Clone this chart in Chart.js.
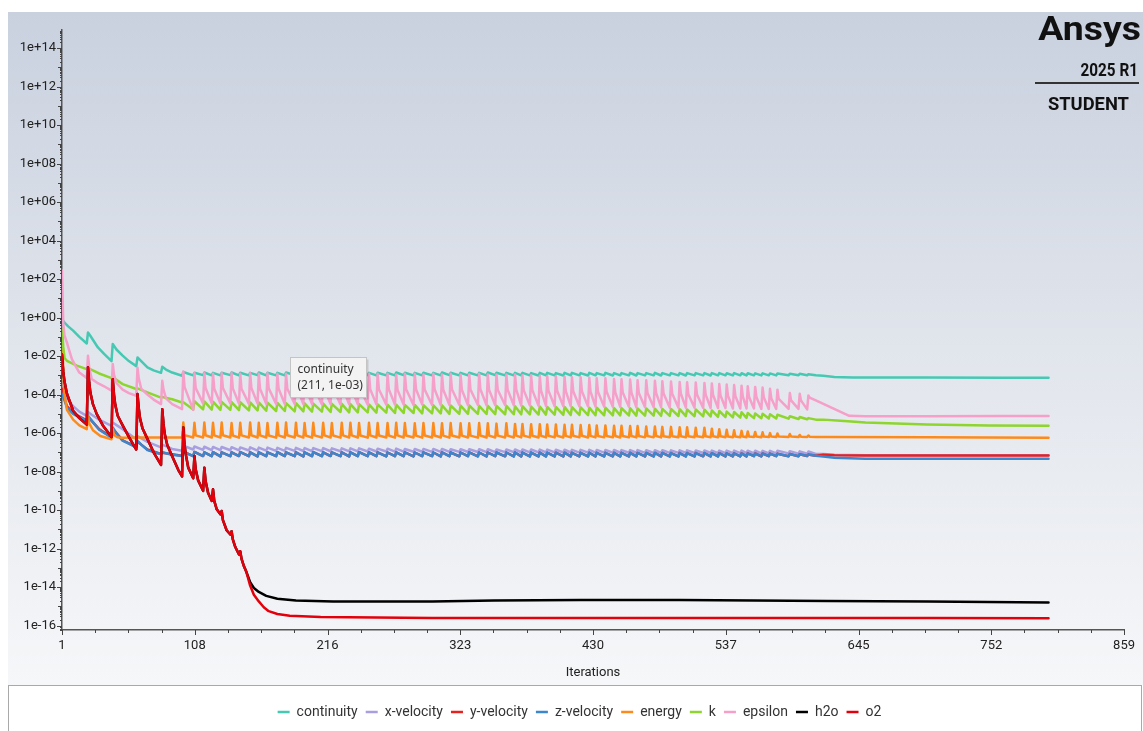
<!DOCTYPE html>
<html><head><meta charset="utf-8">
<script src="https://cdn.jsdelivr.net/npm/chart.js@4.4.1/dist/chart.umd.min.js"></script>
<style>html,body{margin:0;padding:0;background:#fff;}canvas{display:block;}</style>
</head><body>
<canvas id="c" width="1143" height="731"></canvas>
<script>
// ---------------- data ----------------
const seriesNames = ['continuity','x-velocity','y-velocity','z-velocity','energy','k','epsilon','h2o','o2'];
const xRange = [1, 859];
const xTickLabels = ['1','108','216','323','430','537','645','752','859'];
const yExpRange = [-16.23, 14.94];
const yTickExps = [-16,-14,-12,-10,-8,-6,-4,-2,0,2,4,6,8,10,12,14];
const yTickLabels = ['1e-16','1e-14','1e-12','1e-10','1e-08','1e-06','1e-04','1e-02','1e+00','1e+02','1e+04','1e+06','1e+08','1e+10','1e+12','1e+14'];
const tooltipInfo = {series: 'continuity', iter: 211, value: 1e-3};

// iterations where a new time step starts (residual jump) in the periodic part
const stepIters = [99,108,116,123,130,138,145,153,160,167,175,182,190,197,204,212,219,227,234,241,249,256,264,271,278,286,293,301,308,315,323,330,338,345,352,360,
367,373,380,387,393,400,407,413,420,427,433,440,447,453,460,466,473,480,486,493,500,506,513,520,
526,532,538,544,550,555,561,567,573,579,
589,597,604];
const oscEnd = 611;

// continuity
const continuityEarly = [[1,0.85],[3,0.55],[6,0.35],[10,0.21],[15,0.1],[21,0.045],[22,0.17],[24,0.11],[30,0.028],[35,0.013],[41,5.5e-3],[42,0.043],[45,0.022],[50,0.0105],[55,5.5e-3],[61,3.0e-3],[62,8.5e-3],[65,5.5e-3],[70,2.6e-3],[75,1.8e-3],[81,1.35e-3],[82,2.8e-3],[85,2.0e-3],[90,1.4e-3],[98,9.5e-4]];
const continuityPeak = [1.5e-3,1.35e-3,1.4e-3,1.35e-3,1.35e-3,1.4e-3,1.35e-3,1.35e-3,1.4e-3,1.35e-3,1.35e-3,1.4e-3,1.35e-3,1.35e-3,1.35e-3,1.4e-3,1.35e-3,1.35e-3,1.35e-3,1.4e-3,1.35e-3,1.35e-3,1.35e-3,1.4e-3,1.35e-3,1.35e-3,1.35e-3,1.35e-3,1.4e-3,1.35e-3,1.35e-3,1.35e-3,1.35e-3,1.4e-3,1.35e-3,1.35e-3,
1.35e-3,1.35e-3,1.3e-3,1.35e-3,1.35e-3,1.3e-3,1.35e-3,1.35e-3,1.3e-3,1.35e-3,1.3e-3,1.35e-3,1.3e-3,1.3e-3,1.35e-3,1.3e-3,1.3e-3,1.35e-3,1.3e-3,1.3e-3,1.3e-3,1.3e-3,1.3e-3,1.3e-3,
1.3e-3,1.3e-3,1.28e-3,1.3e-3,1.28e-3,1.28e-3,1.27e-3,1.27e-3,1.26e-3,1.25e-3,
1.22e-3,1.2e-3,1.15e-3];
const continuityLow = [1.0e-3,1.02e-3,1.0e-3,1.0e-3,1.02e-3,1.0e-3,1.0e-3,1.02e-3,1.0e-3,1.0e-3,1.0e-3,1.02e-3,1.0e-3,1.0e-3,1.0e-3,1.02e-3,1.0e-3,1.0e-3,1.0e-3,1.02e-3,1.0e-3,1.0e-3,1.0e-3,1.02e-3,1.0e-3,1.0e-3,1.0e-3,1.0e-3,1.02e-3,1.0e-3,1.0e-3,1.0e-3,1.0e-3,1.02e-3,1.0e-3,1.0e-3,
1.0e-3,1.0e-3,0.98e-3,1.0e-3,1.0e-3,0.98e-3,1.0e-3,1.0e-3,0.98e-3,1.0e-3,1.0e-3,0.98e-3,1.0e-3,1.0e-3,0.98e-3,1.0e-3,1.0e-3,0.98e-3,1.0e-3,1.0e-3,0.98e-3,1.0e-3,1.0e-3,0.98e-3,
1.0e-3,1.0e-3,0.99e-3,1.0e-3,0.99e-3,1.0e-3,0.99e-3,1.0e-3,0.99e-3,1.0e-3,
1.0e-3,1.0e-3,1.0e-3];
const continuityTail = [[616,9.5e-4],[625,8.3e-4],[640,7.8e-4],[700,7.7e-4],[760,7.6e-4],[798,7.6e-4]];

// x-velocity
const xvelEarly = [[1,1.6e-4],[3,9e-5],[5,6.3e-5],[10,2.5e-5],[15,1.3e-5],[21,7.9e-6],[22,1.26e-5],[25,9e-6],[31,5e-6],[41,2.4e-6],[42,3.5e-6],[50,1.6e-6],[61,4.8e-7],[62,7e-7],[70,3.5e-7],[81,1.8e-7],[82,2.5e-7],[90,1.5e-7],[98,1.2e-7]];
const xvelPeak = [2.2e-7,2.0e-7,1.95e-7,1.9e-7,1.9e-7,1.85e-7,1.8e-7,1.8e-7,1.75e-7,1.75e-7,1.7e-7,1.7e-7,1.7e-7,1.65e-7,1.65e-7,1.65e-7,1.6e-7,1.6e-7,1.6e-7,1.6e-7,1.55e-7,1.55e-7,1.55e-7,1.55e-7,1.5e-7,1.5e-7,1.5e-7,1.5e-7,1.5e-7,1.45e-7,1.45e-7,1.45e-7,1.45e-7,1.45e-7,1.4e-7,1.4e-7,
1.4e-7,1.4e-7,1.4e-7,1.38e-7,1.38e-7,1.36e-7,1.36e-7,1.35e-7,1.35e-7,1.34e-7,1.33e-7,1.32e-7,1.32e-7,1.31e-7,1.3e-7,1.3e-7,1.29e-7,1.28e-7,1.28e-7,1.27e-7,1.26e-7,1.26e-7,1.25e-7,1.25e-7,
1.24e-7,1.24e-7,1.23e-7,1.23e-7,1.22e-7,1.22e-7,1.21e-7,1.2e-7,1.2e-7,1.2e-7,
1.15e-7,1.12e-7,1.1e-7];
const xvelLow = [1.4e-7,1.35e-7,1.3e-7,1.3e-7,1.28e-7,1.26e-7,1.25e-7,1.24e-7,1.22e-7,1.2e-7,1.2e-7,1.18e-7,1.17e-7,1.16e-7,1.15e-7,1.14e-7,1.13e-7,1.12e-7,1.12e-7,1.11e-7,1.1e-7,1.1e-7,1.09e-7,1.08e-7,1.08e-7,1.07e-7,1.06e-7,1.06e-7,1.05e-7,1.05e-7,1.04e-7,1.04e-7,1.03e-7,1.03e-7,1.02e-7,1.02e-7,
1.01e-7,1.0e-7,1.0e-7,9.9e-8,9.9e-8,9.8e-8,9.8e-8,9.7e-8,9.7e-8,9.6e-8,9.6e-8,9.6e-8,9.5e-8,9.5e-8,9.5e-8,9.4e-8,9.4e-8,9.4e-8,9.3e-8,9.3e-8,9.3e-8,9.2e-8,9.2e-8,9.2e-8,
9.1e-8,9.1e-8,9.0e-8,9.0e-8,9.0e-8,8.9e-8,8.9e-8,8.9e-8,8.8e-8,8.8e-8,
8.6e-8,8.4e-8,8.2e-8];
const xvelTail = [[616,8.2e-8],[625,7.4e-8],[650,7.1e-8],[720,7.1e-8],[798,7.1e-8]];

// y-velocity (in the periodic part it lies exactly under z-velocity)
const yvelEarly = [[1,2.0e-4],[3,6e-5],[5,2.5e-5],[10,1.1e-5],[21,4.6e-6],[22,7e-6],[31,1.6e-6],[41,6e-7],[42,1.7e-6],[50,4.2e-7],[61,1.9e-7],[62,3.6e-7],[70,1.4e-7],[81,8.2e-8],[82,9.5e-8],[98,6.6e-8]];
const yvelTail = [[616,7.6e-8],[625,7.0e-8],[650,6.8e-8],[720,6.8e-8],[798,6.8e-8]];

// z-velocity
const zvelEarly = [[1,1.1e-4],[3,5e-5],[5,2.1e-5],[10,1.0e-5],[15,6.5e-6],[21,4.4e-6],[22,7.9e-6],[25,4.5e-6],[31,1.5e-6],[41,5.9e-7],[42,1.95e-6],[45,9e-7],[50,4e-7],[61,1.8e-7],[62,4e-7],[65,2.5e-7],[70,1.3e-7],[81,8e-8],[82,1.0e-7],[90,7.5e-8],[98,6.5e-8]];
const zvelPeak = [1.1e-7,1.05e-7,1.0e-7,1.02e-7,1.0e-7,1.0e-7,1.02e-7,1.0e-7,1.0e-7,1.0e-7,1.02e-7,1.0e-7,1.0e-7,1.0e-7,1.02e-7,1.0e-7,1.0e-7,1.0e-7,1.0e-7,1.02e-7,1.0e-7,1.0e-7,9.8e-8,1.0e-7,1.0e-7,9.8e-8,1.0e-7,9.8e-8,1.0e-7,9.8e-8,9.8e-8,1.0e-7,9.8e-8,9.8e-8,9.8e-8,9.8e-8,
9.8e-8,9.7e-8,9.7e-8,9.7e-8,9.6e-8,9.6e-8,9.6e-8,9.5e-8,9.5e-8,9.5e-8,9.5e-8,9.4e-8,9.4e-8,9.4e-8,9.4e-8,9.3e-8,9.3e-8,9.3e-8,9.3e-8,9.2e-8,9.2e-8,9.2e-8,9.2e-8,9.1e-8,
9.0e-8,9.0e-8,8.9e-8,8.9e-8,8.8e-8,8.8e-8,8.7e-8,8.7e-8,8.6e-8,8.5e-8,
8.2e-8,8.0e-8,7.8e-8];
const zvelLow = [6.3e-8,6.4e-8,6.3e-8,6.2e-8,6.3e-8,6.4e-8,6.3e-8,6.2e-8,6.3e-8,6.3e-8,6.4e-8,6.3e-8,6.2e-8,6.3e-8,6.3e-8,6.4e-8,6.3e-8,6.2e-8,6.3e-8,6.3e-8,6.3e-8,6.2e-8,6.3e-8,6.3e-8,6.2e-8,6.3e-8,6.3e-8,6.2e-8,6.3e-8,6.2e-8,6.3e-8,6.2e-8,6.2e-8,6.3e-8,6.2e-8,6.2e-8,
6.2e-8,6.2e-8,6.1e-8,6.2e-8,6.2e-8,6.1e-8,6.2e-8,6.2e-8,6.1e-8,6.2e-8,6.1e-8,6.2e-8,6.1e-8,6.1e-8,6.2e-8,6.1e-8,6.1e-8,6.2e-8,6.1e-8,6.1e-8,6.2e-8,6.1e-8,6.2e-8,6.2e-8,
6.2e-8,6.2e-8,6.2e-8,6.2e-8,6.2e-8,6.3e-8,6.2e-8,6.3e-8,6.3e-8,6.3e-8,
6.3e-8,6.4e-8,6.6e-8];
const zvelTail = [[616,6.0e-8],[625,5.2e-8],[650,4.7e-8],[720,4.7e-8],[798,4.6e-8]];

// energy
const energyEarly = [[1,0.2],[2,2e-3],[3,1e-4],[5,1.6e-5],[10,5e-6],[15,2.5e-6],[21,1.6e-6],[22,8e-6],[23,3.2e-6],[26,1.4e-6],[32,7e-7],[41,4.8e-7],[42,1.6e-6],[43,8e-7],[46,6e-7],[50,5.8e-7],[61,5.9e-7],[81,5.9e-7],[98,5.9e-7]];
const energyPeak = [3.5e-6,3.4e-6,3.5e-6,3.4e-6,3.5e-6,3.3e-6,3.4e-6,3.5e-6,3.4e-6,3.3e-6,3.4e-6,3.5e-6,3.4e-6,3.3e-6,3.4e-6,3.4e-6,3.3e-6,3.4e-6,3.4e-6,3.3e-6,3.4e-6,3.3e-6,3.3e-6,3.4e-6,3.3e-6,3.2e-6,3.3e-6,3.3e-6,3.2e-6,3.3e-6,3.2e-6,3.2e-6,3.3e-6,3.2e-6,3.1e-6,3.2e-6,
3.0e-6,3.0e-6,2.9e-6,2.9e-6,2.8e-6,2.8e-6,2.7e-6,2.7e-6,2.6e-6,2.6e-6,2.5e-6,2.5e-6,2.4e-6,2.4e-6,2.3e-6,2.3e-6,2.2e-6,2.2e-6,2.1e-6,2.1e-6,2.0e-6,2.0e-6,1.9e-6,1.9e-6,
1.7e-6,1.6e-6,1.5e-6,1.4e-6,1.3e-6,1.2e-6,1.15e-6,1.1e-6,1.0e-6,9.5e-7,
9.0e-7,8.0e-7,7.5e-7];
const energyMid = [7.8e-7,7.6e-7,7.7e-7,7.6e-7,7.7e-7,7.5e-7,7.6e-7,7.7e-7,7.6e-7,7.5e-7,7.6e-7,7.7e-7,7.6e-7,7.5e-7,7.6e-7,7.6e-7,7.5e-7,7.6e-7,7.6e-7,7.5e-7,7.6e-7,7.5e-7,7.5e-7,7.6e-7,7.5e-7,7.4e-7,7.5e-7,7.5e-7,7.4e-7,7.5e-7,7.4e-7,7.4e-7,7.5e-7,7.4e-7,7.4e-7,7.4e-7,
7.4e-7,7.4e-7,7.3e-7,7.3e-7,7.3e-7,7.3e-7,7.2e-7,7.2e-7,7.2e-7,7.2e-7,7.1e-7,7.1e-7,7.1e-7,7.1e-7,7.0e-7,7.0e-7,7.0e-7,7.0e-7,6.9e-7,6.9e-7,6.9e-7,6.9e-7,6.8e-7,6.8e-7,
6.8e-7,6.8e-7,6.7e-7,6.7e-7,6.7e-7,6.7e-7,6.6e-7,6.6e-7,6.6e-7,6.6e-7,
6.6e-7,6.5e-7,6.5e-7];
const energyLow = [5.9e-7,5.9e-7,5.9e-7,5.9e-7,5.9e-7,5.8e-7,5.9e-7,5.9e-7,5.9e-7,5.8e-7,5.9e-7,5.9e-7,5.9e-7,5.8e-7,5.9e-7,5.9e-7,5.8e-7,5.9e-7,5.9e-7,5.8e-7,5.9e-7,5.9e-7,5.8e-7,5.9e-7,5.9e-7,5.8e-7,5.9e-7,5.9e-7,5.8e-7,5.9e-7,5.9e-7,5.8e-7,5.9e-7,5.9e-7,5.9e-7,5.9e-7,
6.0e-7,6.0e-7,5.9e-7,6.0e-7,6.0e-7,5.9e-7,6.0e-7,6.0e-7,5.9e-7,6.0e-7,6.0e-7,6.0e-7,5.9e-7,6.0e-7,6.0e-7,6.0e-7,6.0e-7,6.0e-7,6.0e-7,6.1e-7,6.0e-7,6.1e-7,6.1e-7,6.1e-7,
6.1e-7,6.1e-7,6.1e-7,6.1e-7,6.1e-7,6.2e-7,6.1e-7,6.2e-7,6.2e-7,6.2e-7,
6.2e-7,6.2e-7,6.2e-7];
const energyTail = [[616,6.2e-7],[700,6.0e-7],[798,5.8e-7]];

// k
const kEarly = [[1,0.26],[2,0.03],[3,8e-3],[5,5.7e-3],[13,3.2e-3],[21,2.1e-3],[22,2.4e-3],[31,1.25e-3],[41,7.2e-4],[42,8e-4],[50,3.5e-4],[61,1.95e-4],[62,2.1e-4],[70,1.3e-4],[81,7e-5],[82,7.5e-5],[90,5.7e-5],[98,3.9e-5]];
const kPeak = [4.0e-5,4.5e-5,4.4e-5,4.3e-5,4.2e-5,4.1e-5,4.0e-5,3.9e-5,3.9e-5,3.8e-5,3.7e-5,3.6e-5,3.6e-5,3.5e-5,3.4e-5,3.4e-5,3.3e-5,3.3e-5,3.2e-5,3.2e-5,3.1e-5,3.1e-5,3.0e-5,3.0e-5,2.9e-5,2.9e-5,2.8e-5,2.8e-5,2.8e-5,2.7e-5,2.7e-5,2.7e-5,2.6e-5,2.6e-5,2.6e-5,2.6e-5,
2.5e-5,2.5e-5,2.4e-5,2.4e-5,2.3e-5,2.3e-5,2.3e-5,2.2e-5,2.2e-5,2.1e-5,2.1e-5,2.1e-5,2.0e-5,2.0e-5,1.95e-5,1.9e-5,1.9e-5,1.85e-5,1.8e-5,1.8e-5,1.75e-5,1.7e-5,1.7e-5,1.65e-5,
1.5e-5,1.4e-5,1.3e-5,1.25e-5,1.2e-5,1.1e-5,1.05e-5,1.0e-5,9.5e-6,9.0e-6,
7.5e-6,6.8e-6,6.0e-6];
const kLow = [1.7e-5,1.7e-5,1.65e-5,1.6e-5,1.6e-5,1.55e-5,1.5e-5,1.5e-5,1.45e-5,1.4e-5,1.4e-5,1.35e-5,1.35e-5,1.3e-5,1.3e-5,1.25e-5,1.25e-5,1.2e-5,1.2e-5,1.2e-5,1.15e-5,1.15e-5,1.1e-5,1.1e-5,1.1e-5,1.05e-5,1.05e-5,1.05e-5,1.0e-5,1.0e-5,1.0e-5,1.0e-5,9.8e-6,9.6e-6,9.5e-6,9.5e-6,
9.4e-6,9.3e-6,9.2e-6,9.1e-6,9.0e-6,8.9e-6,8.8e-6,8.7e-6,8.6e-6,8.5e-6,8.4e-6,8.3e-6,8.3e-6,8.2e-6,8.1e-6,8.0e-6,8.0e-6,7.9e-6,7.8e-6,7.7e-6,7.6e-6,7.5e-6,7.4e-6,7.3e-6,
7.0e-6,6.8e-6,6.6e-6,6.4e-6,6.2e-6,6.0e-6,5.9e-6,5.8e-6,5.7e-6,5.6e-6,
5.4e-6,5.2e-6,5.0e-6];
const kTail = [[616,5.0e-6],[630,4.4e-6],[650,3.5e-6],[700,2.8e-6],[750,2.5e-6],[798,2.4e-6]];

// epsilon
const epsEarly = [[1,280],[2,0.5],[3,0.12],[5,0.05],[7,0.018],[9,7e-3],[12,3e-3],[15,1.4e-3],[21,7.2e-4],[22,0.0105],[23,2.5e-3],[25,6.5e-4],[30,3.9e-4],[35,2.7e-4],[41,1.6e-4],[42,3.9e-3],[43,1.1e-3],[45,4.0e-4],[50,1.8e-4],[55,1.2e-4],[61,8.7e-5],[62,2.5e-3],[63,7e-4],[65,2.0e-4],[70,1.0e-4],[75,5.5e-5],[81,3.2e-5],[82,5.2e-4],[83,1.8e-4],[85,6.3e-5],[90,3.2e-5],[98,1.75e-5]];
const epsPeak = [1.6e-3,1.3e-3,1.3e-3,1.2e-3,1.3e-3,1.3e-3,1.2e-3,1.3e-3,1.2e-3,1.3e-3,1.2e-3,1.2e-3,1.3e-3,1.2e-3,1.2e-3,1.2e-3,1.3e-3,1.2e-3,1.2e-3,1.2e-3,1.2e-3,1.2e-3,1.2e-3,1.1e-3,1.2e-3,1.2e-3,1.1e-3,1.2e-3,1.1e-3,1.2e-3,1.1e-3,1.1e-3,1.2e-3,1.1e-3,1.1e-3,1.1e-3,
1.1e-3,1.0e-3,1.0e-3,9.5e-4,9.0e-4,9.0e-4,8.5e-4,8.0e-4,8.0e-4,7.5e-4,7.0e-4,7.0e-4,6.5e-4,6.3e-4,6.0e-4,5.6e-4,5.5e-4,5.2e-4,5.0e-4,4.8e-4,4.5e-4,4.4e-4,4.2e-4,4.0e-4,
3.8e-4,3.5e-4,3.3e-4,3.1e-4,2.9e-4,2.7e-4,2.5e-4,2.3e-4,2.0e-4,1.8e-4,
1.2e-4,1.1e-4,9.0e-5];
const epsMid = [2.5e-4,2.2e-4,2.2e-4,2.0e-4,2.2e-4,2.1e-4,2.0e-4,2.2e-4,2.0e-4,2.1e-4,2.0e-4,2.0e-4,2.1e-4,2.0e-4,2.0e-4,1.9e-4,2.1e-4,2.0e-4,1.9e-4,1.9e-4,1.9e-4,1.9e-4,1.9e-4,1.8e-4,1.9e-4,1.9e-4,1.8e-4,1.9e-4,1.8e-4,1.9e-4,1.8e-4,1.8e-4,1.9e-4,1.8e-4,1.8e-4,1.8e-4,
1.8e-4,1.7e-4,1.7e-4,1.6e-4,1.6e-4,1.6e-4,1.5e-4,1.5e-4,1.5e-4,1.4e-4,1.4e-4,1.4e-4,1.3e-4,1.3e-4,1.3e-4,1.2e-4,1.2e-4,1.2e-4,1.15e-4,1.1e-4,1.1e-4,1.05e-4,1.0e-4,1.0e-4,
9.5e-5,9.0e-5,8.8e-5,8.5e-5,8.0e-5,7.8e-5,7.5e-5,7.0e-5,6.5e-5,6.0e-5,
5.0e-5,5.0e-5,7.0e-5];
const epsLow = [1.6e-5,3.5e-5,3.5e-5,3.4e-5,3.5e-5,3.4e-5,3.3e-5,3.4e-5,3.3e-5,3.3e-5,3.2e-5,3.3e-5,3.2e-5,3.2e-5,3.1e-5,3.2e-5,3.1e-5,3.1e-5,3.1e-5,3.0e-5,3.1e-5,3.0e-5,3.0e-5,3.0e-5,2.9e-5,3.0e-5,2.9e-5,2.9e-5,2.9e-5,2.9e-5,2.8e-5,2.9e-5,2.8e-5,2.8e-5,2.8e-5,2.8e-5,
2.7e-5,2.7e-5,2.6e-5,2.6e-5,2.5e-5,2.5e-5,2.5e-5,2.4e-5,2.4e-5,2.4e-5,2.3e-5,2.3e-5,2.3e-5,2.3e-5,2.2e-5,2.2e-5,2.2e-5,2.2e-5,2.1e-5,2.1e-5,2.1e-5,2.1e-5,2.0e-5,2.0e-5,
2.0e-5,2.0e-5,1.9e-5,1.9e-5,1.9e-5,1.9e-5,1.8e-5,1.8e-5,1.8e-5,1.8e-5,
1.8e-5,1.7e-5,5.0e-5];
const epsTail = [[620,2.5e-5],[637,7.9e-6],[650,7.4e-6],[700,7.4e-6],[760,7.6e-6],[798,7.6e-6]];

// species (h2o and o2 coincide until they separate near iteration 150)
const speciesEarly = [[1,1.2e-2],[2,1.5e-3],[3,5e-4],[5,1.1e-4],[10,1.45e-5],[15,6e-6],[21,2.8e-6],[22,2.6e-3],[23,4e-4],[24,1.2e-4],[26,3.2e-5],[29,1e-5],[34,2.5e-6],[41,6.3e-7],[42,6.3e-4],[43,1e-4],[44,3e-5],[46,8e-6],[50,2.5e-6],[55,6.3e-7],[61,1.4e-7],[62,1.07e-4],[63,2e-5],[64,6e-6],[66,1.8e-6],[70,5e-7],[75,1e-7],[81,2.2e-8],[82,1.74e-5],[83,3e-6],[84,9e-7],[86,2.5e-7],[90,6.3e-8],[95,1.2e-8],[98,5.6e-9],
[99,1.95e-6],[100,2.5e-7],[101,8e-8],[103,1.6e-8],[107,4.5e-9],[108,6.5e-8],[109,1.3e-8],[111,3.5e-9],[115,1e-9],[116,1.6e-8],[117,3.2e-9],[119,8e-10],[122,3e-10],[123,1.2e-9],[124,3e-10],[126,1.1e-10],[129,6e-11],[130,9e-11],[131,3e-11],[134,9e-12],[137,5.4e-12],[138,8e-12],[139,3e-12],[141,1.2e-12],[144,5e-13],[145,7.2e-13],[146,3e-13],[148,1.2e-13],[150,6e-14]];
const h2oTail = [[151,4e-14],[153,1.8e-14],[156,9e-15],[160,5.6e-15],[166,3.5e-15],[175,2.5e-15],[190,2e-15],[220,1.8e-15],[300,1.8e-15],[350,2e-15],[420,2.1e-15],[500,2.1e-15],[560,2e-15],[620,1.9e-15],[700,1.8e-15],[798,1.6e-15]];
const o2Tail = [[151,3.5e-14],[153,1.2e-14],[156,4e-15],[160,1.8e-15],[164,9e-16],[168,5.6e-16],[175,4e-16],[185,3.2e-16],[210,2.8e-16],[300,2.5e-16],[500,2.5e-16],[700,2.5e-16],[798,2.4e-16]];

// ---------------- styles ----------------
const seriesColors = ['#45c9b3','#a89fe0','#e8211f','#3b86cc','#fd8b1c','#8ed52e','#f59fc9','#000000','#e3000b'];

// ---------------- build series ----------------
function pts(list) { return list.map(p => ({x: p[0], y: p[1]})); }
function periodic(peak, mid, low) {
  const out = [];
  stepIters.forEach((b, j) => {
    const next = j + 1 < stepIters.length ? stepIters[j + 1] : oscEnd;
    out.push({x: b, y: peak[j]});
    if (mid) out.push({x: b + 1, y: mid[j]});
    out.push({x: next - 1, y: low[j]});
  });
  return out;
}
const seriesData = [
  pts(continuityEarly).concat(periodic(continuityPeak, null, continuityLow), pts(continuityTail)),
  pts(xvelEarly).concat(periodic(xvelPeak, null, xvelLow), pts(xvelTail)),
  pts(yvelEarly).concat(periodic(zvelPeak, null, zvelLow), pts(yvelTail)),
  pts(zvelEarly).concat(periodic(zvelPeak, null, zvelLow), pts(zvelTail)),
  pts(energyEarly).concat(periodic(energyPeak, energyMid, energyLow), pts(energyTail)),
  pts(kEarly).concat(periodic(kPeak, null, kLow), pts(kTail)),
  pts(epsEarly).concat(periodic(epsPeak, epsMid, epsLow), pts(epsTail)),
  pts(speciesEarly).concat(pts(h2oTail)),
  pts(speciesEarly).concat(pts(o2Tail))
];

const datasets = seriesNames.map((name, i) => ({
  label: name,
  data: seriesData[i],
  borderColor: seriesColors[i],
  backgroundColor: seriesColors[i],
  borderWidth: 2.5,
  pointRadius: 0,
  tension: 0,
  order: seriesNames.length - i
}));

const xTickValues = xTickLabels.map((_, i) => xRange[0] + i * (xRange[1] - xRange[0]) / (xTickLabels.length - 1));

Chart.defaults.font.family = 'Roboto, "Noto Sans", sans-serif';

const deco = {
  id: 'deco',
  afterLayout(chart) {
    if (chart.legend) { chart.legend.left += 17; chart.legend.right += 17; }
  },
  beforeDraw(chart) {
    const {ctx, width, height} = chart;
    ctx.save();
    ctx.fillStyle = '#ffffff';
    ctx.fillRect(0, 0, width, height);
    const g = ctx.createLinearGradient(0, 12, 0, 685);
    g.addColorStop(0, '#c9d1df');
    g.addColorStop(0.5, '#e1e5ec');
    g.addColorStop(1, '#f6f7f9');
    ctx.fillStyle = g;
    ctx.fillRect(8, 12, width - 8, 673);
    ctx.fillStyle = '#ffffff';
    ctx.fillRect(8, 685, width - 10, 60);
    ctx.strokeStyle = '#a9a9a9';
    ctx.lineWidth = 1;
    ctx.strokeRect(8.5, 685.5, width - 10, 60);
    ctx.restore();
  },
  afterDraw(chart) {
    const {ctx, chartArea: ca} = chart;
    const xs = chart.scales.x, ys = chart.scales.y;
    ctx.save();
    // tick marks
    ctx.strokeStyle = '#444';
    ctx.lineWidth = 1;
    ctx.beginPath();
    const step = (xTickValues[1] - xTickValues[0]) / 4;
    for (let k = 0; k <= (xTickValues.length - 1) * 4; k++) {
      const px = Math.round(xs.getPixelForValue(xTickValues[0] + k * step)) + 0.5;
      const len = k % 4 === 0 ? 5 : 3;
      ctx.moveTo(px, ca.bottom); ctx.lineTo(px, ca.bottom + len);
    }
    for (let e = -17; e <= 15; e++) {
      for (let m = 1; m <= 9; m++) {
        const v = m * Math.pow(10, e);
        if (v < ys.min || v > ys.max) continue;
        const py = Math.round(ys.getPixelForValue(v)) + 0.5;
        const len = m === 1 ? (e % 2 === 0 ? 5 : 4) : 2;
        ctx.moveTo(ca.left - len, py); ctx.lineTo(ca.left, py);
      }
    }
    ctx.stroke();

    // tooltip box
    const px = xs.getPixelForValue(tooltipInfo.iter);
    const py = ys.getPixelForValue(tooltipInfo.value);
    const bx = Math.round(px - 32) + 0.5, by = Math.round(py - 18) + 0.5, bw = 76, bh = 40;
    ctx.fillStyle = 'rgba(0,0,0,0.12)';
    ctx.fillRect(bx + 2, by + 2, bw, bh);
    ctx.fillStyle = '#f3f3f3';
    ctx.fillRect(bx, by, bw, bh);
    ctx.strokeStyle = '#c4c4c4';
    ctx.strokeRect(bx, by, bw, bh);
    ctx.fillStyle = '#333';
    ctx.font = '12px "Noto Sans", sans-serif';
    ctx.textBaseline = 'middle';
    ctx.textAlign = 'left';
    const expo = Math.round(Math.log10(tooltipInfo.value));
    const vs = '1e' + (expo < 0 ? '-' : '+') + String(Math.abs(expo)).padStart(2, '0');
    ctx.fillText(tooltipInfo.series, bx + 7, by + 12);
    ctx.fillText('(' + tooltipInfo.iter + ', ' + vs + ')', bx + 7, by + 28);

    // logo
    ctx.fillStyle = '#111';
    ctx.textAlign = 'right';
    ctx.textBaseline = 'alphabetic';
    ctx.save();
    ctx.translate(1141, 40);
    ctx.scale(1.1, 1);
    ctx.font = 'bold 34px Roboto';
    ctx.fillText('Ansys', 0, 0);
    ctx.restore();
    ctx.save();
    ctx.translate(1138, 76);
    ctx.scale(0.85, 1);
    ctx.font = 'bold 18px Roboto';
    ctx.fillText('2025 R1', 0, 0);
    ctx.restore();
    ctx.fillStyle = '#333';
    ctx.fillRect(1035, 82, 104, 2);
    ctx.fillStyle = '#111';
    ctx.save();
    ctx.translate(1129, 110);
    ctx.scale(1.02, 1);
    ctx.font = 'bold 18px Roboto';
    ctx.fillText('STUDENT', 0, 0);
    ctx.restore();
    ctx.restore();
  }
};

new Chart(document.getElementById('c'), {
  type: 'line',
  data: {datasets},
  options: {
    responsive: false,
    animation: false,
    events: [],
    layout: {padding: {left: 0, right: 18, top: 30, bottom: 2}},
    elements: {line: {borderJoinStyle: 'round', borderCapStyle: 'round'}, point: {radius: 0}},
    plugins: {
      tooltip: {enabled: false},
      legend: {
        position: 'bottom',
        labels: {
          usePointStyle: true,
          pointStyle: 'line',
          pointStyleWidth: 12,
          padding: 8,
          color: '#333',
          font: {size: 14},
          sort: (a, b) => a.datasetIndex - b.datasetIndex
        }
      }
    },
    scales: {
      x: {
        type: 'linear',
        min: xRange[0],
        max: xRange[1],
        afterBuildTicks: s => { s.ticks = xTickValues.map(v => ({value: v})); },
        afterFit: s => {
          const lh = s.chart.legend ? s.chart.legend.height : 32;
          s.height = s.chart.height - 2 - lh - 630;
        },
        grid: {display: false, drawTicks: false},
        border: {display: true, color: '#555', width: 1.5},
        ticks: {autoSkip: false, maxRotation: 0, padding: 8, color: '#222', font: {size: 13},
          callback: (v, i) => xTickLabels[i]},
        title: {display: true, text: 'Iterations', color: '#222', font: {size: 13}, padding: {top: 0, bottom: 16}}
      },
      y: {
        type: 'logarithmic',
        min: Math.pow(10, yExpRange[0]),
        max: Math.pow(10, yExpRange[1]),
        afterBuildTicks: s => { s.ticks = yTickExps.map(e => ({value: Math.pow(10, e)})); },
        afterFit: s => { s.width = 62; },
        grid: {display: false, drawTicks: false},
        border: {display: true, color: '#555', width: 1.5},
        ticks: {autoSkip: false, padding: 6, color: '#222', font: {size: 13},
          callback: (v, i) => yTickLabels[i]}
      }
    }
  },
  plugins: [deco]
});
</script>
</body></html>
